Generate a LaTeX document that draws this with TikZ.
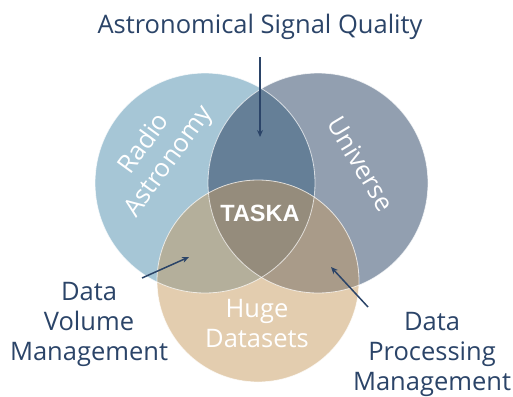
\documentclass[tikz,border=0pt]{standalone}
\usepackage{fontspec}
\setmainfont{Open Sans}
\newfontfamily\taskafont{Liberation Sans}
\usetikzlibrary{arrows.meta}
\definecolor{navy}{HTML}{2B4468}
\definecolor{cL}{HTML}{A6C6D6}
\definecolor{cR}{HTML}{929FB0}
\definecolor{cB}{HTML}{E3CDAF}
\definecolor{cLR}{HTML}{657F97}
\definecolor{cLB}{HTML}{B4AF9B}
\definecolor{cRB}{HTML}{A99B89}
\definecolor{cLRB}{HTML}{958C7C}
\begin{document}
\begin{tikzpicture}[x=1pt,y=-1pt,
  lab/.style={text=navy, font=\fontsize{25.5}{30}\selectfont, align=center, inner sep=0pt},
  inlab/.style={text=white, font=\fontsize{25.5}{30}\selectfont, align=center, inner sep=0pt},
  arr/.style={draw=navy, line width=1.5pt, -{Stealth[length=7pt,width=6pt]}},
  rim/.style={draw=white, draw opacity=0.7, line width=0.8pt}]
\useasboundingbox (0,0) rectangle (513,396);
\coordinate (L) at (205,183);
\coordinate (R) at (318,183);
\coordinate (B) at (258,281);
% single circles
\fill[cL] (L) circle[radius=110pt];
\fill[cR] (R) circle[radius=110pt];
\fill[cB] (B) circle[radius=101pt];
% pairwise overlaps
\begin{scope}
  \clip (L) circle[radius=110pt];
  \fill[cLR] (R) circle[radius=110pt];
  \fill[cLB] (B) circle[radius=101pt];
\end{scope}
\begin{scope}
  \clip (R) circle[radius=110pt];
  \fill[cRB] (B) circle[radius=101pt];
\end{scope}
\begin{scope}
  \clip (L) circle[radius=110pt];
  \clip (R) circle[radius=110pt];
  \fill[cLRB] (B) circle[radius=101pt];
\end{scope}
\draw[rim] (L) circle[radius=110pt];
\draw[rim] (R) circle[radius=110pt];
\draw[rim] (B) circle[radius=101pt];
% labels inside
\node[inlab, rotate=54] (radio) at (157,153) {Radio\\Astronomy};
\node[inlab, rotate=-59] (univ) at (361,164) {Universe};
\node[inlab] (huge) at (257,324) {Huge\\Datasets};
\node[text=white, font=\taskafont\bfseries\fontsize{23.5}{28}\selectfont, inner sep=0pt] (taska) at (260,213) {TASKA};
% outer labels
\node[lab] (asq) at (260,27) {Astronomical Signal Quality};
\node[lab] (dvm) at (89,324) {Data\\Volume\\Management};
\node[lab] (dpm) at (432,354) {Data\\Processing\\Management};
% connectors
\coordinate (a1s) at (260,57);
\coordinate (a1e) at (260,137);
\coordinate (a2s) at (142,278);
\coordinate (a2e) at (189,257);
\coordinate (a3s) at (368,307);
\coordinate (a3e) at (331,267);
\draw[arr] (a1s) -- (a1e);
\draw[arr] (a2s) -- (a2e);
\draw[arr] (a3s) -- (a3e);
\end{tikzpicture}
\end{document}
